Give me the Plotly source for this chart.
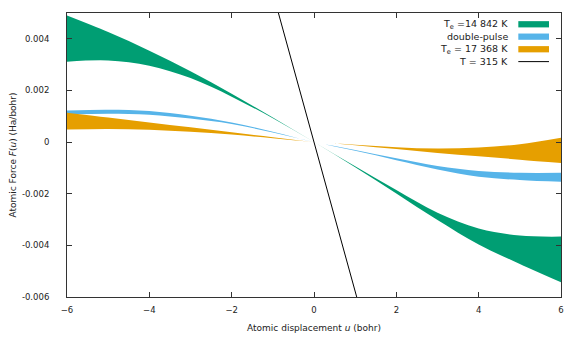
import plotly.graph_objects as go

# atomic displacement u (bohr)
u = [-6, -5, -4, -3, -2, -1, 0, 1, 2, 3, 4, 5, 6]

# Te = 14 842 K band (upper / lower edge), Ha/bohr
green_hi = [0.00490, 0.00426, 0.00354, 0.00274, 0.00187, 0.00095, 0.0, -0.00094, -0.00186, -0.00274, -0.00335, -0.00362, -0.00366]
green_lo = [0.00311, 0.00316, 0.00296, 0.00248, 0.00176, 0.00092, 0.0, -0.00097, -0.00199, -0.00302, -0.00397, -0.00472, -0.00543]

# double-pulse band
blue_hi = [0.00122, 0.00125, 0.00120, 0.00102, 0.00076, 0.00040, 0.0, -0.00031, -0.00063, -0.00093, -0.00112, -0.00119, -0.00119]
blue_lo = [0.00106, 0.00110, 0.00106, 0.00091, 0.00070, 0.00037, 0.0, -0.00034, -0.00070, -0.00106, -0.00134, -0.00147, -0.00154]

# Te = 17 368 K band
orange_hi = [0.00114, 0.00095, 0.00076, 0.00057, 0.00038, 0.00019, 0.0, -0.00010, -0.00020, -0.00025, -0.00021, -0.00008, 0.00017]
orange_lo = [0.00049, 0.00051, 0.00048, 0.00040, 0.00029, 0.00015, 0.0, -0.00012, -0.00027, -0.00042, -0.00055, -0.00068, -0.00081]

# T = 315 K (harmonic line)
u_line = [-6, 6]
f_line = [0.0347, -0.0347]

bands = [
    ('T<sub>e</sub> =14 842 K', green_lo, green_hi, '#009e73'),
    ('double-pulse', blue_lo, blue_hi, '#56b4e9'),
    ('T<sub>e</sub> = 17 368 K', orange_lo, orange_hi, '#e69f00'),
]

fig = go.Figure()
for name, lo, hi, col in bands:
    fig.add_trace(go.Scatter(x=u, y=lo, mode='lines', line=dict(width=0, color=col, shape='spline'),
                             showlegend=False, hoverinfo='skip'))
    fig.add_trace(go.Scatter(x=u, y=hi, mode='lines', line=dict(width=0, color=col, shape='spline'),
                             fill='tonexty', fillcolor=col, name=name, showlegend=False))

fig.add_trace(go.Scatter(x=u_line, y=f_line, mode='lines', line=dict(color='black', width=1),
                         name='T = 315 K', showlegend=False))

# gnuplot-like key: text on the left, sample on the right
key_rows = [0.9603, 0.9167, 0.8724, 0.8288]
key_items = [(b[0], b[3]) for b in bands] + [('T = 315 K', None)]
for (label, col), yy in zip(key_items, key_rows):
    fig.add_annotation(x=0.8968, y=yy, xref='paper', yref='paper', text=label, showarrow=False,
                       xanchor='right', yanchor='middle', font=dict(size=9.5, color='#222'))
    if col:
        fig.add_shape(type='rect', xref='paper', yref='paper', x0=0.9136, x1=0.9757,
                      y0=yy - 0.011, y1=yy + 0.011, fillcolor=col, line=dict(width=0))
    else:
        fig.add_shape(type='line', xref='paper', yref='paper', x0=0.9136, x1=0.9757,
                      y0=yy, y1=yy, line=dict(color='black', width=1))

axis_style = dict(showline=True, linecolor='#333', linewidth=1, mirror='ticks', ticks='inside',
                  ticklen=5, tickcolor='#333', showgrid=False, zeroline=False, automargin=False,
                  tickfont=dict(size=8.5, color='#222'))

fig.update_xaxes(range=[-6, 6], tickvals=[-6, -4, -2, 0, 2, 4, 6],
                 title=dict(text='Atomic displacement <i>u</i> (bohr)', font=dict(size=9, color='#222'), standoff=10),
                 ticklabelstandoff=5, **axis_style)
fig.update_yaxes(range=[-0.006, 0.005], tickvals=[-0.006, -0.004, -0.002, 0, 0.002, 0.004],
                 ticktext=['-0.006', '-0.004', '-0.002', '0', '0.002', '0.004'],
                 title=dict(text='Atomic Force <i>F</i>(<i>u</i>) (Ha/bohr)', font=dict(size=9, color='#222'), standoff=6),
                 ticklabelstandoff=15, **axis_style)

# page body adds an 8px offset, so the figure is a bit smaller than the window
fig.update_layout(
    width=573, height=334,
    margin=dict(l=59, r=20, t=5, b=44.5),
    plot_bgcolor='white', paper_bgcolor='white',
    font=dict(family='DejaVu Sans'),
    showlegend=False,
)
fig.write_html('out.html')
